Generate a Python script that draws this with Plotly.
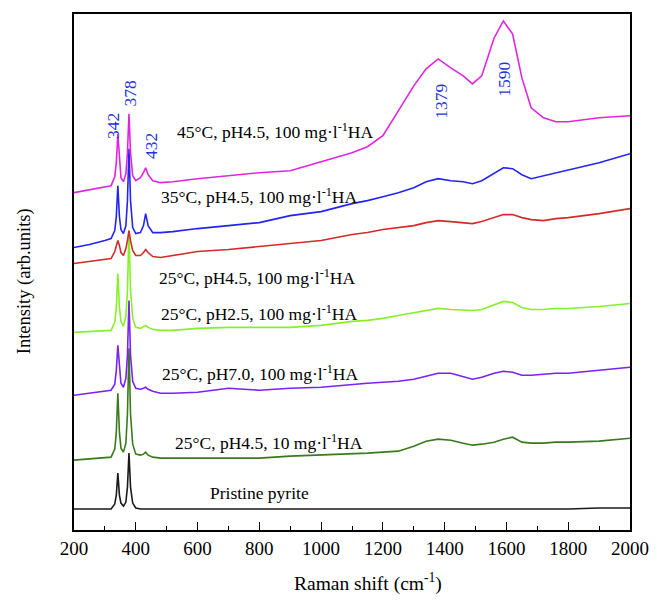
import plotly.graph_objects as go

# Raman shift grid (cm^-1)
shift = [200, 250, 300, 320, 332, 337, 342, 347, 352, 360, 368, 373, 378, 383, 390, 400,
         415, 425, 432, 440, 455, 480, 520, 600, 700, 800, 900, 1000, 1100, 1150, 1200, 1250,
         1300, 1340, 1379, 1420, 1460, 1490, 1520, 1560, 1590, 1620, 1650, 1680, 1720,
         1760, 1800, 1900, 2000]

# Stacked intensities (arb. units, offset spectra)
i_45_pH45_100 = [338, 341, 344, 345, 354, 368, 397, 368, 353, 349, 357, 378, 417, 378, 355, 350,
                 353, 358, 363, 356, 350, 348, 349, 352, 355, 358, 360, 369, 378, 384, 395, 420,
                 445, 462, 472, 463, 455, 447, 455, 493, 510, 497, 453, 423, 413,
                 409, 409, 413, 415]
i_35_pH45_100 = [283, 286, 290, 292, 300, 314, 345, 314, 301, 297, 305, 330, 382, 330, 303, 297,
                 298, 305, 317, 305, 298, 298, 299, 302, 305, 308, 315, 319, 327, 330, 334, 338,
                 343, 349, 352, 350, 349, 347, 350, 357, 363, 362, 356, 352, 355,
                 358, 361, 368, 377]
i_25_pH45_100 = [267, 269, 271, 272, 279, 285, 290, 285, 278, 275, 282, 290, 300, 290, 280, 275,
                 275, 278, 281, 278, 274, 273, 275, 279, 281, 284, 287, 290, 296, 298, 301, 303,
                 305, 308, 310, 309, 308, 307, 309, 313, 316, 316, 313, 311, 310,
                 312, 313, 317, 322]
i_25_pH25_100 = [198, 199, 200, 200, 208, 223, 257, 223, 209, 204, 214, 240, 300, 240, 212, 203,
                 202, 204, 205, 203, 201, 200, 200, 202, 203, 203, 203, 205, 209, 210, 212, 215,
                 218, 220, 222, 221, 220, 220, 221, 226, 229, 228, 223, 221, 221,
                 222, 222, 224, 227]
i_25_pH70_100 = [135, 137, 139, 140, 146, 160, 185, 160, 147, 143, 152, 175, 230, 175, 149, 142,
                 141, 142, 143, 141, 139, 137, 137, 138, 142, 140, 142, 143, 146, 147, 148, 149,
                 151, 154, 157, 157, 154, 151, 153, 157, 159, 158, 155, 155, 156,
                 157, 157, 160, 163]
i_25_pH45_10 = [70, 71, 72, 73, 81, 98, 137, 98, 82, 78, 87, 116, 182, 116, 86, 76,
                75, 76, 78, 75, 73, 72, 72, 72, 72, 72, 74, 75, 76, 77, 78, 79,
                84, 89, 91, 90, 87, 85, 86, 88, 91, 93, 88, 87, 87,
                88, 88, 89, 92]
i_pristine = [21, 21, 21, 21, 26, 35, 57, 35, 27, 24, 28, 43, 77, 43, 27, 22,
              21, 21, 21, 21, 21, 21, 21, 21, 21, 21, 21, 21, 21, 21, 21, 21,
              21, 21, 21, 21, 21, 21, 21, 21, 21, 21, 21, 21, 21,
              21, 21, 22, 22]

series = [
    ("Pristine pyrite", i_pristine, "#1a1a1a"),
    ("25°C, pH4.5, 10 mg·l<sup>-1</sup>HA", i_25_pH45_10, "#3b7a1c"),
    ("25°C, pH7.0, 100 mg·l<sup>-1</sup>HA", i_25_pH70_100, "#7b22f0"),
    ("25°C, pH2.5, 100 mg·l<sup>-1</sup>HA", i_25_pH25_100, "#86f02a"),
    ("25°C, pH4.5, 100 mg·l<sup>-1</sup>HA", i_25_pH45_100, "#d42a2a"),
    ("35°C, pH4.5, 100 mg·l<sup>-1</sup>HA", i_35_pH45_100, "#2424f0"),
    ("45°C, pH4.5, 100 mg·l<sup>-1</sup>HA", i_45_pH45_100, "#e025e0"),
]

# label anchor (left x in cm^-1, intensity)
label_x = [633, 522, 480, 474, 468, 474, 528]
label_y = [37, 88, 157, 217, 253, 335, 400]

peak_names = ["342", "378", "432", "1379", "1590"]
peak_x = [324, 380, 447, 1388, 1592]
peak_y = [405, 438, 385, 430, 452]

FONT = "Liberation Serif, Times New Roman, serif"

fig = go.Figure()
for name, ys, col in series:
    fig.add_trace(go.Scatter(x=shift, y=ys, mode="lines", name=name,
                             line=dict(color=col, width=1.6), showlegend=False))

annotations = []
for (name, ys, col), lx, ly in zip(series, label_x, label_y):
    annotations.append(dict(x=lx, y=ly, xref="x", yref="y", text=name, showarrow=False,
                            xanchor="left", yanchor="middle",
                            font=dict(family=FONT, size=17.5, color="black")))
for t, px, py in zip(peak_names, peak_x, peak_y):
    annotations.append(dict(x=px, y=py, xref="x", yref="y", text=t, showarrow=False,
                            textangle=-90, xanchor="center", yanchor="middle",
                            font=dict(family=FONT, size=17.5, color="#2233dd")))
annotations.append(dict(x=0.529, y=-0.1025, xref="paper", yref="paper",
                        text="Raman shift (cm<sup>-1</sup>)", showarrow=False,
                        xanchor="center", yanchor="middle",
                        font=dict(family=FONT, size=19.5, color="black")))
annotations.append(dict(x=-0.090, y=0.482, xref="paper", yref="paper",
                        text="Intensity (arb.units)", showarrow=False, textangle=-90,
                        xanchor="center", yanchor="middle",
                        font=dict(family=FONT, size=18.5, color="black")))

fig.update_layout(
    width=661, height=601,
    margin=dict(l=74, r=22, t=13, b=71),
    paper_bgcolor="white", plot_bgcolor="white",
    annotations=annotations,
    font=dict(family=FONT, color="black"),
)
fig.update_xaxes(range=[200, 2000], showgrid=False, zeroline=False,
                 showline=True, mirror=True, linecolor="black", linewidth=1.5,
                 ticks="inside", ticklen=8, tickwidth=1.3, tickcolor="black",
                 tick0=200, dtick=200,
                 minor=dict(ticks="inside", ticklen=4, tickwidth=1.3, tickcolor="black", dtick=100, showgrid=False),
                 tickfont=dict(family=FONT, size=19, color="black"))
fig.update_yaxes(range=[0, 517], showgrid=False, zeroline=False,
                 showline=True, mirror=True, linecolor="black", linewidth=1.5,
                 ticks="", showticklabels=False)

fig.write_html("out.html")
